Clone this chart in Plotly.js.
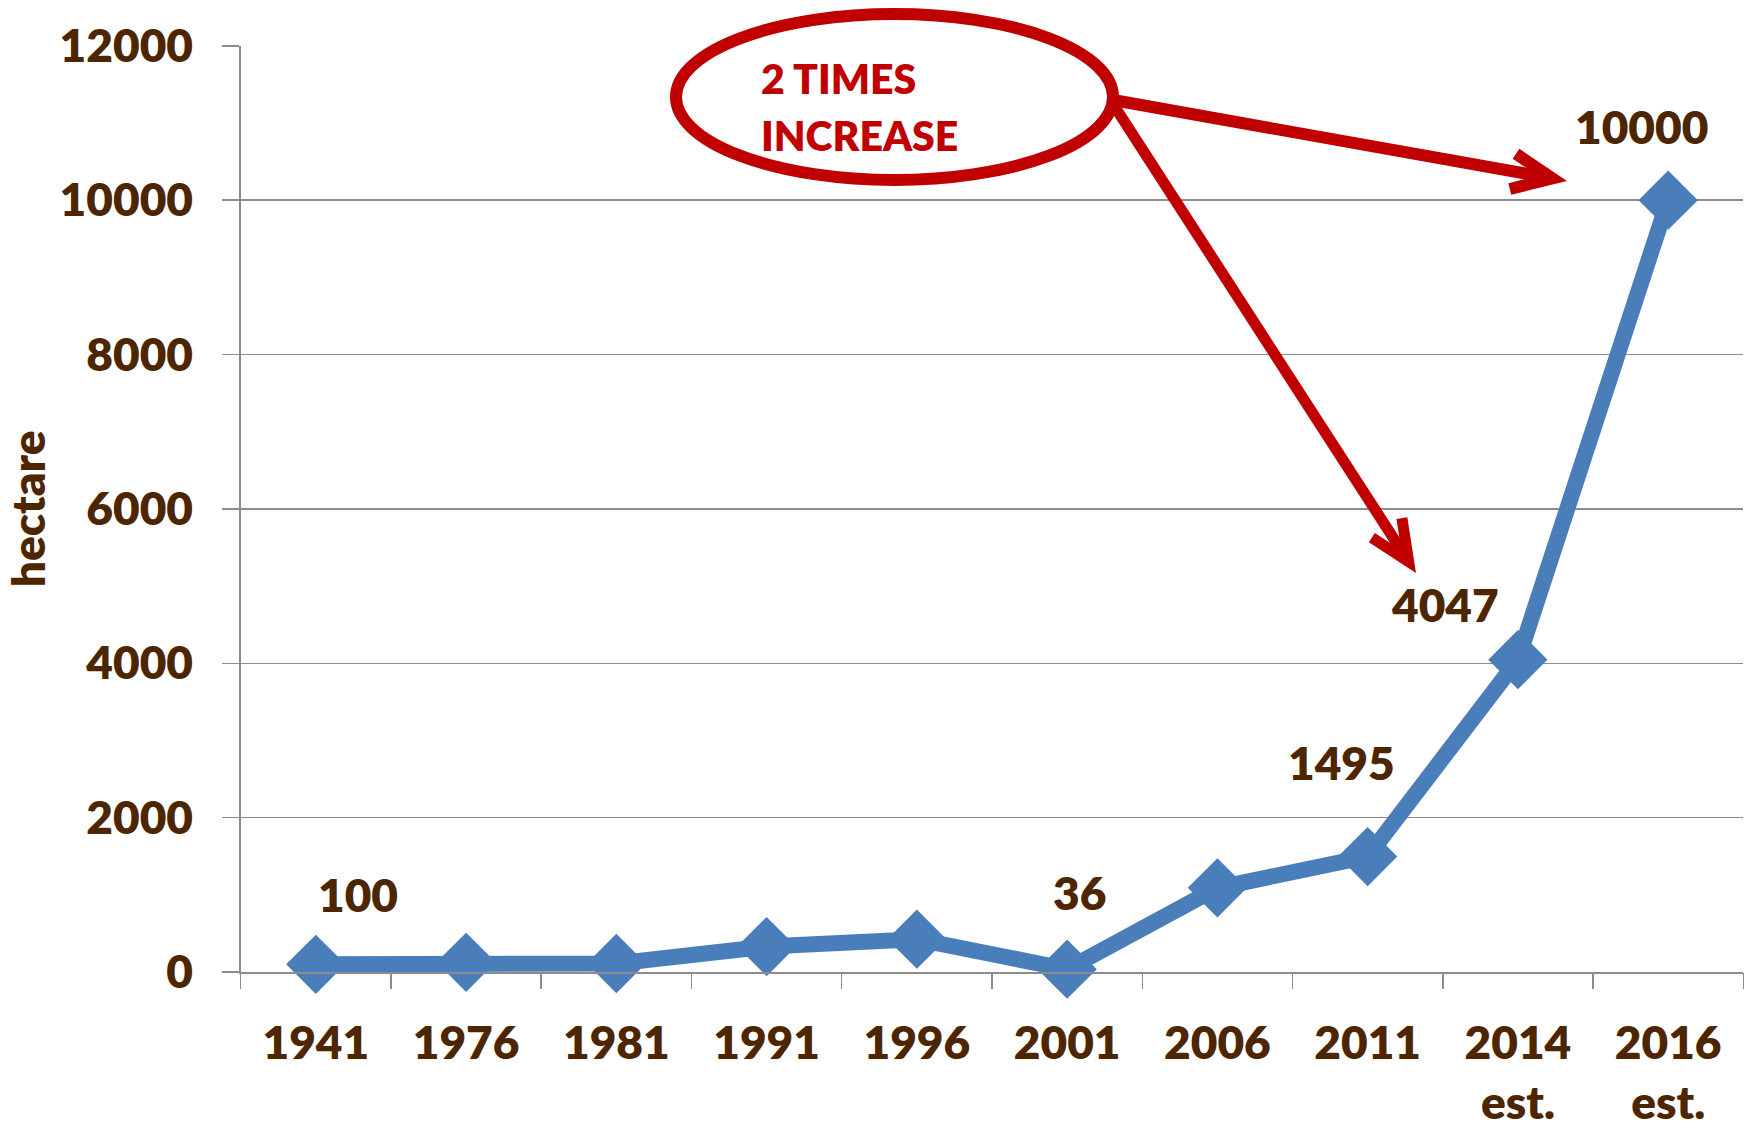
<!DOCTYPE html>
<html>
<head>
<meta charset="utf-8">
<script src="https://cdn.plot.ly/plotly-3.0.1.min.js"></script>
<style>
html,body{margin:0;padding:0;background:#ffffff;}
#chart{width:1750px;height:1128px;}
</style>
</head>
<body>
<div id="chart"></div>
<script>
// ---- data ----
const years = ['1941','1976','1981','1991','1996','2001','2006','2011','2014<br>est.','2016<br>est.'];
const hectares = [100, 125, 110, 330, 425, 36, 1090, 1495, 4047, 10000];
const labeledIdx = [0, 5, 7, 8, 9];
const yTicks = [0, 2000, 4000, 6000, 8000, 10000, 12000];
const yTickText = ['0','2000','4000','6000','8000','10000','12000'];
const yTitle = 'hectare';
const calloutLines = ['2 TIMES', 'INCREASE'];

// ---- layout geometry (pixels) ----
const W = 1750, H = 1128;
const PL = 240.7, PR = 1743.3, PT = 45.8, PB = 972;
const labelShift = [[42,70],[12,77],[-26,94],[-73,55],[-27,74]];
const BROWN = '#4D2600', RED = '#C00000', BLUE = '#4A7EBB', GRID = '#8C8C8C';
const FONT = 'Lato, "Open Sans", sans-serif';
const WEIGHT = 800;

const fx = x => x / W;
const fy = y => 1 - y / H;

function arrowShapes(sx, sy, tx, ty, w) {
  const dx = tx - sx, dy = ty - sy, len = Math.hypot(dx, dy);
  const ux = dx / len, uy = dy / len;
  const half = 24 * Math.PI / 180;
  const setback = (w / 2) / Math.sin(half);
  const L = 44;
  const vx = tx - ux * setback, vy = ty - uy * setback;
  const bx = -ux, by = -uy;
  const rot = a => [bx * Math.cos(a) - by * Math.sin(a), bx * Math.sin(a) + by * Math.cos(a)];
  const a1 = rot(half), a2 = rot(-half);
  const p = (x, y) => fx(x).toFixed(5) + ',' + fy(y).toFixed(5);
  const shaft = 'M' + p(sx, sy) + 'L' + p(vx - ux * 2, vy - uy * 2);
  const head = 'M' + p(vx + a1[0] * L, vy + a1[1] * L) + 'L' + p(vx, vy) + 'L' + p(vx + a2[0] * L, vy + a2[1] * L);
  return [
    {type:'path', xref:'paper', yref:'paper', path: shaft, line:{color:RED, width:w}},
    {type:'path', xref:'paper', yref:'paper', path: head, line:{color:RED, width:w}}
  ];
}

const shapes = [
  {type:'circle', xref:'paper', yref:'paper', x0: fx(676), x1: fx(1113), y0: fy(180), y1: fy(14),
   line:{color:RED, width:12}, fillcolor:'rgba(0,0,0,0)'}
].concat(arrowShapes(1113, 100, 1567, 181, 12))
 .concat(arrowShapes(1113, 104, 1416, 573, 11));

const boldFont = (size, color) => ({family: FONT, size: size, color: color, weight: WEIGHT});

const annotations = labeledIdx.map((i, k) => ({
  xref:'x', yref:'y', x: i, y: hectares[i], text: String(hectares[i]),
  showarrow:false, xanchor:'center', yanchor:'middle',
  xshift: labelShift[k][0], yshift: labelShift[k][1],
  font: boldFont(46, BROWN)
})).concat(calloutLines.map((t, k) => ({
  xref:'paper', yref:'paper', x: fx(759), y: fy(k === 0 ? 78 : 136), text: t,
  showarrow:false, xanchor:'left', yanchor:'middle', font: boldFont(41, RED)
})));

const trace = {
  type:'scatter', mode:'lines+markers', x: years.map((_, i) => i), y: hectares,
  line:{color:BLUE, width:16},
  marker:{symbol:'diamond', size:38, color:BLUE, line:{color:BLUE, width:7}},
  cliponaxis:false, hoverinfo:'y'
};

const layout = {
  width: W, height: H,
  margin:{l:0, r:0, t:0, b:0},
  paper_bgcolor:'#ffffff', plot_bgcolor:'rgba(0,0,0,0)',
  showlegend:false,
  font: boldFont(46, BROWN),
  xaxis:{
    domain:[PL / W, PR / W], type:'linear', range:[-0.5, 9.5],
    tickmode:'array', tickvals: years.map((_, i) => i), ticktext: years,
    showgrid:false, zeroline:false,
    showline:true, linecolor:GRID, linewidth:1.5,
    ticks:'', automargin:false, fixedrange:true,
    tickfont: boldFont(46, BROWN), ticklabelstandoff: 30
  },
  xaxis2:{
    domain:[PL / W, PR / W], anchor:'y', overlaying:'x', range:[-0.5, 9.5],
    tickmode:'array', tickvals: years.map((_, i) => i + 0.5).concat([-0.5]), ticktext: years.map(() => '').concat(['']),
    showgrid:false, zeroline:false, showline:false, side:'bottom',
    ticks:'outside', ticklen:16, tickcolor:GRID, tickwidth:1.5, automargin:false, fixedrange:true
  },
  yaxis:{
    domain:[1 - PB / H, 1 - PT / H], range:[0, 12000],
    tickmode:'array', tickvals: yTicks, ticktext: yTickText,
    showgrid:true, gridcolor:GRID, gridwidth:1.5, zeroline:false,
    showline:true, linecolor:GRID, linewidth:1.5,
    ticks:'outside', ticklen:17, tickcolor:GRID, tickwidth:1.5,
    tickfont: boldFont(46, BROWN), ticklabelstandoff: 20,
    title:{text: yTitle, font: boldFont(46, BROWN), standoff: 6},
    automargin:false, fixedrange:true
  },
  shapes: shapes,
  annotations: annotations
};

Plotly.newPlot('chart', [trace, {type:'scatter', x:[], y:[], xaxis:'x2', yaxis:'y', showlegend:false, hoverinfo:'skip'}], layout, {displayModeBar:false, staticPlot:true});
</script>
</body>
</html>
